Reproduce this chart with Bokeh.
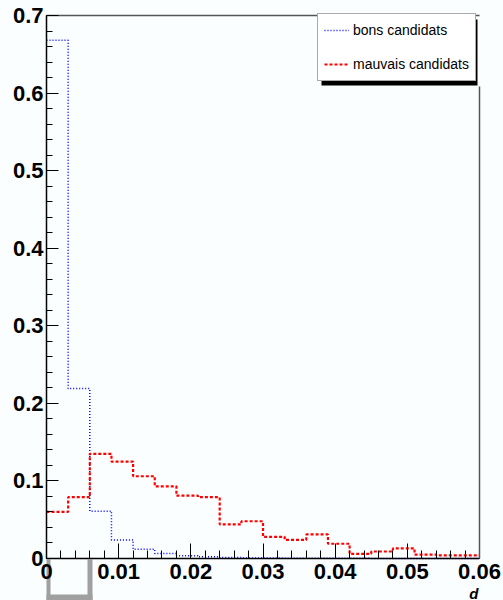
from bokeh.plotting import figure
from bokeh.models import (Range1d, FixedTicker, CustomJSTickFormatter, Legend, LegendItem,
                          BoxAnnotation, Label, LinearAxis)
from bokeh.embed import file_html
from bokeh.resources import INLINE

# ---- data ----
bin_edges = [0.000, 0.003, 0.006, 0.009, 0.012, 0.015, 0.018, 0.021, 0.024, 0.027, 0.030,
             0.033, 0.036, 0.039, 0.042, 0.045, 0.048, 0.051, 0.054, 0.057, 0.060]
bons = [0.668, 0.219, 0.061, 0.024, 0.012, 0.0065, 0.0036, 0.0022, 0.0012, 0.0008,
        0.0005, 0.0004, 0.0003, 0.0002, 0.0002, 0.0001, 0.0001, 0.0001, 0.0001, 0.0001]
mauvais = [0.060, 0.079, 0.135, 0.125, 0.106, 0.093, 0.081, 0.079, 0.044, 0.048,
           0.028, 0.024, 0.031, 0.019, 0.006, 0.009, 0.013, 0.005, 0.004, 0.004]
x_ticks = [0.0, 0.01, 0.02, 0.03, 0.04, 0.05, 0.06]
x_minor = [round(i * 0.002, 4) for i in range(31)]
y_ticks = [0.0, 0.1, 0.2, 0.3, 0.4, 0.5, 0.6, 0.7]
y_minor = [round(i * 0.02, 4) for i in range(36)]
labels = ["bons candidats", "mauvais candidats"]
x_title = "d"

# ---- layout geometry (pixels) ----
W, H = 503, 600
X0, X1, Y1, Y0 = 46, 479, 15, 558      # pixel of x=0, x=0.06, y=0.7, y=0
XMAX, YMAX = 0.06, 0.7
BG = "#fafefe"


def dx(px):
    return (px - X0) / (X1 - X0) * XMAX


def dy(py):
    return (Y0 - py) / (Y0 - Y1) * YMAX


# the frame fills the whole canvas; axes are pinned at data locations
p = figure(width=W, height=H, output_backend="svg", toolbar_location=None,
           x_range=Range1d(dx(0), dx(W)), y_range=Range1d(dy(H), dy(0)))
p.min_border_left = 0
p.min_border_right = 0
p.min_border_top = 0
p.min_border_bottom = 0
p.background_fill_color = BG
p.border_fill_color = BG
p.outline_line_color = None
p.xgrid.visible = False
p.ygrid.visible = False

fmt = CustomJSTickFormatter(code="return Number(tick.toFixed(4)).toString();")
FONT = "Liberation Sans"

# grey box below the axis origin (drawn beneath the axes)
for (l, r, t, b) in [(46, 50, Y0 + 1, 600), (87, 92, Y0 + 1, 600), (46, 92, 594, 600)]:
    p.add_layout(BoxAnnotation(left=dx(l), right=dx(r), top=dy(t), bottom=dy(b),
                               fill_color="#a0a0a0", fill_alpha=1.0, line_color=None,
                               level="underlay"))

xa = p.xaxis[0]
xa.fixed_location = 0
xa.bounds = (0, XMAX)
xa.ticker = FixedTicker(ticks=x_ticks, minor_ticks=x_minor)
xa.formatter = fmt
xa.major_tick_in = 15
xa.major_tick_out = 0
xa.minor_tick_in = 8
xa.minor_tick_out = 0
xa.axis_line_color = "black"
xa.axis_line_width = 1.5
xa.major_tick_line_color = "black"
xa.minor_tick_line_color = "black"
xa.major_label_standoff = 5
xa.major_label_text_font = FONT
xa.major_label_text_font_style = "bold"
xa.major_label_text_font_size = "22px"
xa.major_label_text_color = "black"

ya = p.yaxis[0]
ya.fixed_location = 0
ya.bounds = (0, YMAX)
ya.ticker = FixedTicker(ticks=y_ticks, minor_ticks=y_minor)
ya.formatter = fmt
ya.major_tick_in = 12
ya.major_tick_out = 0
ya.minor_tick_in = 6
ya.minor_tick_out = 0
ya.axis_line_color = "black"
ya.axis_line_width = 1.5
ya.major_tick_line_color = "black"
ya.minor_tick_line_color = "black"
ya.major_label_standoff = 3
ya.major_label_text_font = FONT
ya.major_label_text_font_style = "bold"
ya.major_label_text_font_size = "22px"
ya.major_label_text_color = "black"

# frame top and right edges as bare pinned axes
top_ax = LinearAxis(ticker=FixedTicker(ticks=[]), major_tick_line_color=None,
                    minor_tick_line_color=None, axis_line_color="#555555",
                    axis_line_width=1.5, major_label_text_font_size="0px",
                    fixed_location=YMAX, bounds=(0, XMAX))
p.add_layout(top_ax, "above")
right_ax = LinearAxis(ticker=FixedTicker(ticks=[]), major_tick_line_color=None,
                      minor_tick_line_color=None, axis_line_color="#555555",
                      axis_line_width=1.5, major_label_text_font_size="0px",
                      fixed_location=XMAX, bounds=(0, dy(86)))
p.add_layout(right_ax, "right")

# histograms as steps
r_b = p.step(x=bin_edges, y=bons + [bons[-1]], mode="after",
             line_color="#0000ff", line_width=1.5, line_dash="1 2")
r_m = p.step(x=bin_edges, y=mauvais + [mauvais[-1]], mode="after",
             line_color="#ff0000", line_width=2.2, line_dash="3 2")

# legend shadow
leg_left, leg_top, leg_h = 317, 15, 66
shadow = BoxAnnotation(left=dx(leg_left + 4), right=dx(477), top=dy(leg_top + 4),
                       bottom=dy(leg_top + leg_h + 4),
                       fill_color="black", fill_alpha=1.0, line_color=None)
p.add_layout(shadow)

legend = Legend(items=[LegendItem(label=labels[0], renderers=[r_b]),
                       LegendItem(label=labels[1], renderers=[r_m])],
                location=(leg_left, H - (leg_top + leg_h)))
legend.margin = 0
legend.padding = 6
legend.spacing = 14
legend.glyph_width = 25
legend.glyph_height = 20
legend.label_height = 20
legend.label_standoff = 4
legend.label_text_font = FONT
legend.label_text_font_size = "14px"
legend.label_text_color = "black"
legend.border_line_color = "#555555"
legend.border_line_width = 1
legend.background_fill_color = "white"
legend.background_fill_alpha = 1.0
p.add_layout(legend)

# axis title
p.add_layout(Label(x=dx(478), y=dy(601), text=x_title, text_align="right",
                   text_baseline="bottom", text_font=FONT,
                   text_font_style="bold italic", text_font_size="15px", text_color="black"))

open("out.html", "w").write(file_html(p, INLINE))
